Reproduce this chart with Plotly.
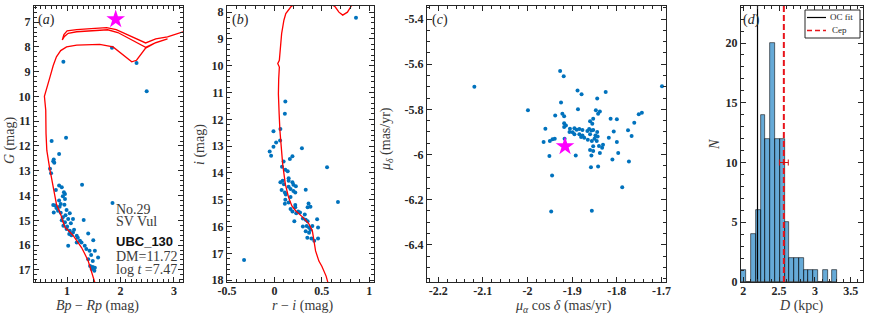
import plotly.graph_objects as go

# ---------------- data ----------------
# (a) Gaia CMD
bprp = [0.93, 1.84, 2.30, 2.49, 0.71, 0.98, 0.85, 0.75, 0.74, 0.76, 0.68, 0.70, 1.28, 0.85, 0.90, 0.79,
        0.94, 0.96, 0.92, 0.85, 0.96, 0.74, 0.78, 0.88, 0.95, 1.85, 0.75, 0.83, 0.88, 0.99, 1.05, 0.92,
        0.97, 1.02, 1.11, 1.31, 0.96, 1.07, 0.93, 0.99, 1.05, 1.11, 1.04, 1.18, 1.08, 1.395, 1.24, 1.27,
        1.49, 1.18, 1.02, 1.33, 1.36, 1.42, 1.52, 1.45, 1.58, 1.395, 1.48, 1.43, 1.48, 1.52, 1.46, 1.51,
        0.80, 0.86, 0.90, 1.00, 1.13, 1.20]
gmag = [8.60, 8.04, 8.65, 9.79, 11.80, 11.67, 12.32, 12.55, 12.62, 12.68, 12.92, 13.10, 13.56, 13.60, 13.67, 13.78,
        13.87, 13.94, 14.03, 14.20, 14.14, 14.38, 14.40, 14.34, 14.37, 14.30, 14.68, 14.61, 14.69, 14.58, 14.72, 14.88,
        14.80, 14.95, 14.95, 14.99, 15.08, 15.12, 15.22, 15.35, 15.42, 15.49, 15.55, 15.62, 15.60, 15.53, 15.83, 15.90,
        15.80, 15.90, 16.03, 16.03, 16.16, 16.23, 16.23, 16.40, 16.50, 16.57, 16.64, 16.84, 16.88, 16.91, 16.97, 17.04,
        14.50, 14.45, 15.00, 15.25, 15.38, 15.70]
iso_bprp = [1.56, 1.52, 1.45, 1.395, 1.33, 1.27, 1.19, 1.115, 1.03, 0.96, 0.92, 0.90, 0.85, 0.80, 0.77, 0.74,
            0.70, 0.68, 0.65, 0.62, 0.605, 0.60, 0.575, 0.59, 0.62, 0.68, 0.74, 0.80, 0.88, 0.99, 1.18, 1.61,
            1.86, 2.05, 2.21, 2.30, 2.47, 2.64, 2.88,
            2.66, 2.47, 2.20, 1.95, 1.76, 1.45, 1.18, 1.02, 0.95, 0.91,
            0.94, 1.00, 1.18, 1.45, 1.74, 1.92, 2.20, 2.47, 2.66, 2.88, 3.17, 3.50]
iso_g = [17.80, 17.51, 16.95, 16.64, 16.35, 16.10, 15.85, 15.62, 15.42, 15.29, 15.05, 14.88, 14.60, 14.34, 14.00, 13.60,
         13.20, 12.99, 12.60, 12.18, 11.50, 10.56, 10.00, 9.90, 9.70, 9.21, 8.75, 8.40, 8.15, 8.00, 7.93, 7.90,
         8.00, 8.34, 8.60, 8.54, 8.05, 7.85, 7.68,
         7.83, 8.02, 7.72, 7.42, 7.31, 7.34, 7.39, 7.45, 7.58, 7.72,
         7.50, 7.35, 7.30, 7.26, 7.22, 7.30, 7.57, 7.84, 7.68, 7.60, 7.39, 7.15]
cep_bprp = [1.91]
cep_g = [6.89]

# (b) r-i vs i
ri = [0.86, 0.115, 0.11, -0.01, 0.063, 0.06, 0.018, -0.01, -0.05, -0.035, 0.29, 0.19, 0.163, 0.097, 0.08, 0.555,
      0.115, 0.14, 0.15, 0.087, 0.063, 0.15, 0.19, 0.10, 0.20, 0.15, 0.226, 0.17, 0.076, 0.20, 0.33, 0.11,
      0.22, 0.12, 0.17, 0.115, 0.15, 0.22, 0.11, 0.67, 0.17, 0.22, 0.19, 0.25, 0.36, 0.35, 0.38, 0.23,
      0.27, 0.32, 0.30, 0.21, 0.33, 0.35, 0.45, 0.30, 0.34, 0.365, 0.40, 0.46, 0.33, 0.365, 0.38, 0.347,
      0.39, 0.42, 0.46, -0.32]
imag = [8.21, 11.33, 11.79, 12.44, 12.36, 12.79, 12.86, 13.02, 13.20, 13.36, 13.08, 13.38, 13.48, 13.57, 13.77, 13.79,
        13.88, 13.94, 14.20, 14.29, 14.35, 14.29, 14.35, 14.42, 14.44, 14.52, 14.50, 14.60, 14.64, 14.67, 14.63, 14.73,
        14.73, 14.80, 14.90, 15.00, 15.10, 15.20, 15.15, 15.08, 15.35, 15.28, 15.44, 15.44, 15.14, 15.28, 15.26, 15.50,
        15.48, 15.55, 15.70, 15.80, 15.75, 15.80, 15.73, 16.00, 15.98, 16.04, 15.98, 16.04, 16.18, 16.23, 16.12, 16.42,
        16.45, 16.53, 16.45, 17.25]
iso_ri = [0.58, 0.545, 0.50, 0.469, 0.434, 0.417, 0.40, 0.365, 0.295, 0.226, 0.184, 0.15, 0.115, 0.087, 0.07,
          0.058, 0.05, 0.042, 0.045, 0.052, 0.035, 0.052, 0.076, 0.10, 0.12, 0.174, 0.25, 0.45, 0.60, 0.64,
          0.68, 0.72, 0.77, 0.815, 0.90]
iso_i = [18.30, 17.85, 17.48, 17.29, 16.91, 16.54, 16.16, 15.91, 15.64, 15.42, 15.23, 14.92, 14.42, 13.67, 13.00,
         12.42, 11.80, 11.05, 10.50, 10.05, 9.92, 9.80, 8.80, 8.30, 8.05, 7.80, 7.60, 7.55, 7.70, 7.80,
         8.00, 8.11, 8.00, 7.74, 7.40]

# (c) proper motions
pmra = [-2.119, -1.999, -1.699, -1.945, -1.788, -1.947, -1.856,
        -1.927, -1.919, -1.888, -1.879, -1.825, -1.844, -1.925, -1.887, -1.847, -1.838, -1.842, -1.938, -1.922,
        -1.918, -1.814, -1.800, -1.751, -1.744, -1.853, -1.860, -1.855, -1.918, -1.914, -1.918, -1.761, -1.960,
        -1.905, -1.895, -1.906, -1.899, -1.890, -1.884, -1.877, -1.895, -1.884, -1.877, -1.873, -1.880, -1.866,
        -1.862, -1.857, -1.860, -1.853, -1.844, -1.848, -1.807, -1.775, -1.767, -1.843, -1.818, -1.850, -1.865,
        -1.856, -1.845, -1.964, -1.950, -1.944, -1.939, -1.917, -1.800, -1.831, -1.853, -1.833, -1.840, -1.860,
        -1.853, -1.838, -1.797, -1.892, -1.951, -1.857, -1.810, -1.773, -1.858, -1.842]
pmdec = [-5.700, -5.804, -5.698, -6.093, -6.145, -6.253, -6.249,
         -5.630, -5.653, -5.716, -5.733, -5.723, -5.752, -5.770, -5.800, -5.804, -5.809, -5.820, -5.827, -5.819,
         -5.830, -5.842, -5.844, -5.822, -5.815, -5.842, -5.853, -5.864, -5.861, -5.871, -5.878, -5.859, -5.886,
         -5.886, -5.884, -5.900, -5.901, -5.890, -5.887, -5.892, -5.910, -5.910, -5.916, -5.926, -5.922, -5.896,
         -5.887, -5.894, -5.910, -5.892, -5.900, -5.916, -5.898, -5.893, -5.918, -5.920, -5.926, -5.930, -5.935,
         -5.940, -5.940, -5.945, -5.940, -5.933, -5.930, -5.930, -5.945, -5.957, -5.964, -5.970, -5.962, -5.980,
         -5.985, -5.993, -5.993, -6.004, -6.007, -6.004, -6.022, -6.031, -6.056, -6.053]
cep_pmra = [-1.916]
cep_pmdec = [-5.964]

# (d) distance histogram
hist_start = 1.976
hist_width = 0.0667
hist_counts = [1, 0, 4, 6, 14, 12, 20, 12, 12, 5, 2, 2, 2, 1, 1, 1, 0, 1, 0, 1]
oc_fit_d = 2.20
cep_d = 2.567
cep_d_err = 0.062
cep_err_y = 10

# tick labels
a_xt = [1, 2, 3]
a_yt = [7, 8, 9, 10, 11, 12, 13, 14, 15, 16, 17]
b_xt = [-0.5, 0, 0.5, 1]
b_xl = ["-0.5", "0", "0.5", "1"]
b_yt = [8, 9, 10, 11, 12, 13, 14, 15, 16, 17, 18]
c_xt = [-2.2, -2.1, -2.0, -1.9, -1.8, -1.7]
c_xl = ["-2.2", "-2.1", "-2", "-1.9", "-1.8", "-1.7"]
c_yt = [-5.4, -5.6, -5.8, -6.0, -6.2, -6.4]
c_yl = ["-5.4", "-5.6", "-5.8", "-6", "-6.2", "-6.4"]
d_xt = [2, 2.5, 3, 3.5]
d_yt = [0, 5, 10, 15, 20]

# ---------------- style ----------------
W, H = 872, 317
BLUE = "#0072BD"
RED = "#FF0000"
AX = "#262626"
TXT = "#3a3a3a"
SERIF = "Liberation Serif"


def px(x):
    return x / W


def py(y):
    return 1 - y / H


def axis(domain, rng, tv, tt, mdt, anchor, standoff=0):
    return dict(domain=domain, range=rng, anchor=anchor, automargin=False,
                showline=True, linecolor=AX, linewidth=1.2,
                mirror="allticks", ticks="inside", ticklen=5, tickwidth=1, tickcolor=AX,
                tickmode="array", tickvals=tv, ticktext=tt, showgrid=False, zeroline=False,
                ticklabelstandoff=standoff,
                minor=dict(ticks="inside", ticklen=2.5, dtick=mdt, tickcolor=AX, tickwidth=1, showgrid=False),
                tickfont=dict(family=SERIF, size=12, color=AX, weight="bold"))


fig = go.Figure()

# (a)
fig.add_trace(go.Scatter(x=bprp, y=gmag, mode="markers", marker=dict(color=BLUE, size=4),
                         xaxis="x", yaxis="y", showlegend=False))
fig.add_trace(go.Scatter(x=iso_bprp, y=iso_g, mode="lines", line=dict(color=RED, width=1.3),
                         xaxis="x", yaxis="y", showlegend=False))
fig.add_trace(go.Scatter(x=cep_bprp, y=cep_g, mode="markers",
                         marker=dict(color="#FF00FF", size=14, symbol="star", line=dict(width=0)),
                         xaxis="x", yaxis="y", showlegend=False))
# (b)
fig.add_trace(go.Scatter(x=ri, y=imag, mode="markers", marker=dict(color=BLUE, size=4),
                         xaxis="x2", yaxis="y2", showlegend=False))
fig.add_trace(go.Scatter(x=iso_ri, y=iso_i, mode="lines", line=dict(color=RED, width=1.3),
                         xaxis="x2", yaxis="y2", showlegend=False))
# (c)
fig.add_trace(go.Scatter(x=pmra, y=pmdec, mode="markers", marker=dict(color=BLUE, size=4),
                         xaxis="x3", yaxis="y3", showlegend=False))
fig.add_trace(go.Scatter(x=cep_pmra, y=cep_pmdec, mode="markers",
                         marker=dict(color="#FF00FF", size=14, symbol="star", line=dict(width=0)),
                         xaxis="x3", yaxis="y3", showlegend=False))
# (d)
fig.add_trace(go.Scatter(x=[oc_fit_d, oc_fit_d], y=[0, 30], mode="lines", line=dict(color="black", width=1.2),
                         xaxis="x4", yaxis="y4", showlegend=False))
centers = [hist_start + (k + 0.5) * hist_width for k in range(len(hist_counts))]
fig.add_trace(go.Bar(x=centers, y=hist_counts, width=hist_width,
                     marker=dict(color="rgba(0,114,189,0.6)", line=dict(color="rgba(0,0,0,0.8)", width=0.7)),
                     xaxis="x4", yaxis="y4", showlegend=False))
fig.add_trace(go.Scatter(x=[cep_d, cep_d], y=[0, 30], mode="lines",
                         line=dict(color="#E8141B", width=2, dash="6px,3px"),
                         xaxis="x4", yaxis="y4", showlegend=False))
fig.add_trace(go.Scatter(x=[cep_d], y=[cep_err_y], mode="markers", marker=dict(size=1, color="#D01010"),
                         error_x=dict(type="constant", value=cep_d_err, color="#D01010", thickness=1, width=3),
                         xaxis="x4", yaxis="y4", showlegend=False))

ydom = [py(282), py(6)]
fig.update_layout(
    template="none",
    width=W, height=H, margin=dict(l=0, r=0, t=0, b=0, autoexpand=False),
    font=dict(family=SERIF, color=AX),
    plot_bgcolor="white", paper_bgcolor="white", bargap=0,
    xaxis=axis([px(34), px(183)], [0.38, 3.17], a_xt, [str(v) for v in a_xt], 0.1, "y", -3),
    yaxis=axis(ydom, [17.49, 6.35], a_yt, [str(v) for v in a_yt], 0.2, "x"),
    xaxis2=axis([px(227), px(374)], [-0.5, 1.05], b_xt, b_xl, 0.1, "y2", -3),
    yaxis2=axis(ydom, [18.07, 7.77], b_yt, [str(v) for v in b_yt], 0.2, "x2"),
    xaxis3=axis([px(427), px(666)], [-2.225, -1.69], c_xt, c_xl, 0.02, "y3", -3),
    yaxis3=axis(ydom, [-6.565, -5.342], c_yt, c_yl, 0.05, "x3"),
    xaxis4=axis([px(741), px(863)], [1.97, 3.67], d_xt, [str(v) for v in d_xt], 0.1, "y4", -3),
    yaxis4=axis(ydom, [0, 23.1], d_yt, [str(v) for v in d_yt], 1, "x4"),
)

ann = []


def txt(x, y, t, size=14, anchor="center", angle=0, fam=SERIF, wgt="normal", color=TXT):
    ann.append(dict(x=px(x), y=py(y), xref="paper", yref="paper", text=t, showarrow=False,
                    xanchor=anchor, yanchor="middle", textangle=angle,
                    font=dict(family=fam, size=size, color=color, weight=wgt)))


# axis titles
txt(97, 306, "<i>Bp</i> − <i>Rp</i> (mag)")
txt(10, 141, "<i>G</i> (mag)", angle=-90)
txt(303, 306, "<i>r</i> − <i>i</i> (mag)")
txt(200, 145, "<i>i</i> (mag)", angle=-90)
txt(563, 306, "<i>μ</i><sub><i>α</i></sub> cos <i>δ</i> (mas/yr)")
txt(387, 139, "<i>μ</i><sub><i>δ</i></sub> (mas/yr)", angle=-90)
txt(801, 306, "<i>D</i> (kpc)")
txt(714, 145, "<i>N</i>", angle=-90)

# panel labels
for lab, x0 in [("(<i>a</i>)", 36), ("(<i>b</i>)", 230), ("(<i>c</i>)", 430), ("(<i>d</i>)", 741)]:
    txt(x0, 20, lab, anchor="left", color=AX)

# info text in (a)
txt(114, 209, "No.29", anchor="left")
txt(114, 221, "SV Vul", anchor="left")
txt(114, 241, "UBC_130", size=13, anchor="left", fam="Liberation Sans", wgt="bold", color="#111111")
txt(114, 256, "DM=11.72", anchor="left")
txt(114, 269, "log <i>t</i> =7.47", anchor="left")

# legend (d)
txt(828, 17.5, "OC fit", size=9, anchor="left", color=AX)
txt(830, 30.5, "Cep", size=9, anchor="left", color=AX)
fig.update_layout(annotations=ann)

shapes = [
    dict(type="rect", xref="paper", yref="paper", x0=px(805), x1=px(860), y0=py(38), y1=py(10),
         line=dict(color=AX, width=1), fillcolor="white", layer="above"),
    dict(type="line", xref="paper", yref="paper", x0=px(807), x1=px(826), y0=py(17.5), y1=py(17.5),
         line=dict(color="black", width=1.2), layer="above"),
    dict(type="line", xref="paper", yref="paper", x0=px(807), x1=px(826), y0=py(30.5), y1=py(30.5),
         line=dict(color="#E8141B", width=1.5, dash="5px,3px"), layer="above"),
]
fig.update_layout(shapes=shapes)

fig.write_html("out.html", config={"displayModeBar": False},
               post_script="document.body.style.margin='0';document.body.style.padding='0';")
